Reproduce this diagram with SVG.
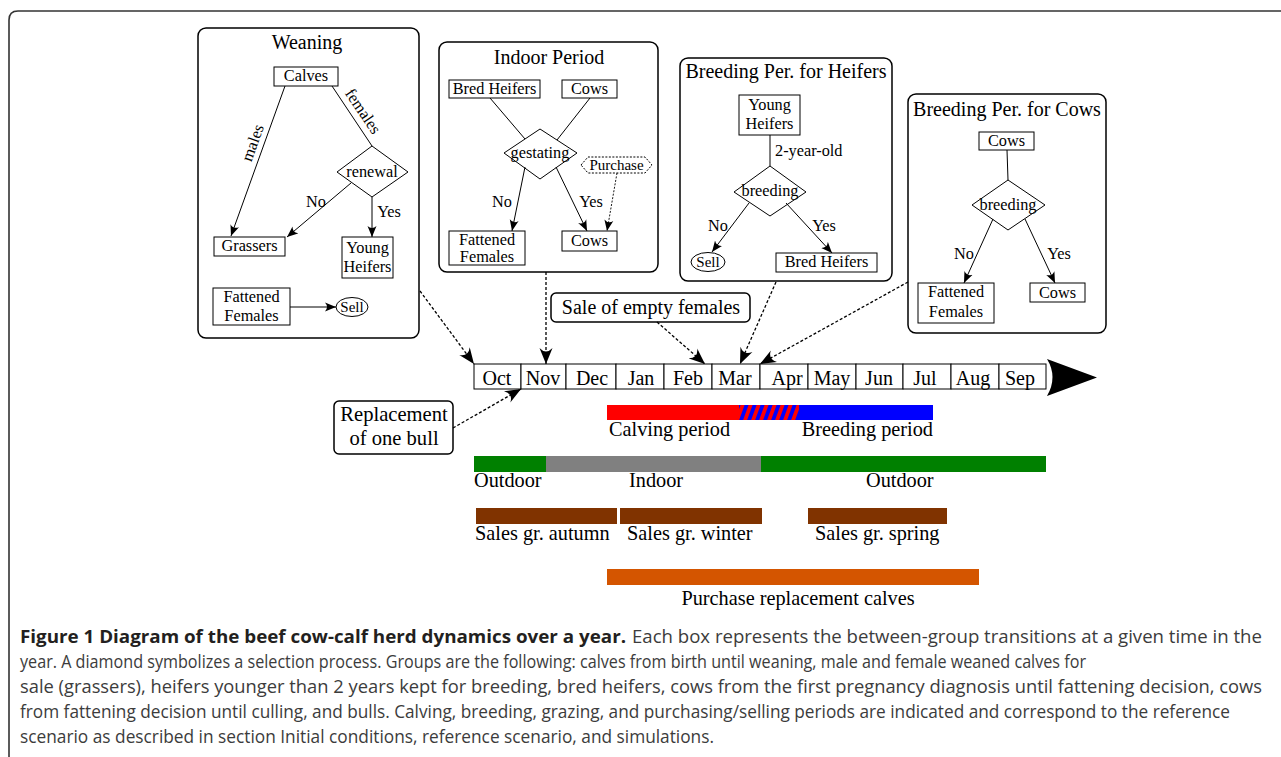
<svg xmlns="http://www.w3.org/2000/svg" width="1281" height="757" viewBox="0 0 1281 757">
<style>
.fr{fill:none;stroke:#333;stroke-width:1.6}
.panel{fill:#fff;stroke:#000;stroke-width:1.5}
.nd{fill:#fff;stroke:#000;stroke-width:1}
.ln{fill:none;stroke:#000;stroke-width:1}
.dt{fill:none;stroke:#000;stroke-width:1.3;stroke-dasharray:3 2}
.ti{font-family:"Liberation Serif",serif;font-size:20px;fill:#000;text-anchor:middle}
.t{font-family:"Liberation Serif",serif;font-size:16.3px;fill:#000;text-anchor:middle}
.tl{font-family:"Liberation Serif",serif;font-size:16.3px;fill:#000}
.mo{font-family:"Liberation Serif",serif;font-size:20px;fill:#000;text-anchor:middle}
.bl{font-family:"Liberation Serif",serif;font-size:20.3px;fill:#000}
.cb{font-family:"Open Sans",sans-serif;font-size:18px;font-weight:bold;fill:#231f20}
.cr{font-family:"Open Sans",sans-serif;font-size:18px;fill:#3c3c3c}
</style>
<defs>
<marker id="a" viewBox="-11 -5 12 10" refX="0" refY="0" markerWidth="12" markerHeight="10" markerUnits="userSpaceOnUse" orient="auto">
<path d="M0,0 L-11,-4.5 Q-7,0 -11,4.5 Z" fill="#000"/>
</marker>
<marker id="b" viewBox="-16 -7 17 14" refX="0" refY="0" markerWidth="17" markerHeight="14" markerUnits="userSpaceOnUse" orient="auto">
<path d="M0,0 L-16,-6.5 Q-9,0 -16,6.5 Z" fill="#000"/>
</marker>
<pattern id="h" patternUnits="userSpaceOnUse" width="8" height="16" patternTransform="skewX(-20)">
<rect x="0" y="0" width="4" height="16" fill="#f00"/>
<rect x="4" y="0" width="4" height="16" fill="#00f"/>
</pattern>
</defs>
<rect width="1281" height="757" fill="#fff"/>
<path class="fr" d="M9,757 L9,20 Q9,11 18,11 L1281,11"/>

<g id="weaning">
<rect class="panel" x="198" y="28" width="221" height="310" rx="8"/>
<text class="ti" x="307" y="49">Weaning</text>
<rect class="nd" x="274" y="67" width="64" height="19"/>
<text class="t" x="306" y="81">Calves</text>
<path class="nd" d="M372,146 L408,172 L372,197 L337,172 Z"/>
<text class="t" x="372" y="177">renewal</text>
<rect class="nd" x="214" y="237" width="71" height="19"/>
<text class="t" x="249.5" y="251">Grassers</text>
<rect class="nd" x="342" y="237" width="51" height="41"/>
<text class="t" x="367.5" y="253">Young</text>
<text class="t" x="367.5" y="272">Heifers</text>
<rect class="nd" x="213" y="288" width="77" height="37"/>
<text class="t" x="251.5" y="302">Fattened</text>
<text class="t" x="251.5" y="321">Females</text>
<ellipse class="nd" cx="352" cy="307" rx="16" ry="9.5"/>
<text class="t" x="352" y="312" style="font-size:15px">Sell</text>
<text class="t" transform="translate(253,143) rotate(-70)" y="5">males</text>
<text class="t" transform="translate(362,112) rotate(56)" y="4">females</text>
<text class="t" x="316" y="207">No</text>
<text class="t" x="389" y="217">Yes</text>
</g>

<g id="indoor">
<rect class="panel" x="439" y="42" width="219" height="230" rx="8"/>
<text class="ti" x="549" y="64">Indoor Period</text>
<rect class="nd" x="449" y="80" width="91" height="18"/>
<text class="t" x="494.5" y="94">Bred Heifers</text>
<rect class="nd" x="562" y="80" width="55" height="18"/>
<text class="t" x="589.5" y="94">Cows</text>
<path class="nd" d="M540,129 L577,153 L540,179 L504,153 Z"/>
<text class="t" x="540" y="158">gestating</text>
<path class="nd" d="M581,165 L588,157 L645,157 L652,165 L645,173 L588,173 Z" style="stroke-dasharray:2 1.5"/>
<text class="t" x="616.5" y="170" style="font-size:15px">Purchase</text>
<rect class="nd" x="449" y="231" width="76" height="34"/>
<text class="t" x="487" y="245">Fattened</text>
<text class="t" x="487" y="262">Females</text>
<rect class="nd" x="562" y="231" width="55" height="20"/>
<text class="t" x="589.5" y="246">Cows</text>
<text class="t" x="502" y="207">No</text>
<text class="t" x="591" y="207">Yes</text>
</g>

<g id="heifers">
<rect class="panel" x="680" y="58" width="212" height="223" rx="8"/>
<text class="ti" x="786" y="78">Breeding Per. for Heifers</text>
<rect class="nd" x="739" y="95" width="61" height="40"/>
<text class="t" x="769.5" y="110">Young</text>
<text class="t" x="769.5" y="129">Heifers</text>
<path class="nd" d="M770,166 L806,192 L770,216 L734,192 Z"/>
<text class="t" x="770" y="196">breeding</text>
<text class="tl" x="775" y="156">2-year-old</text>
<ellipse class="nd" cx="708" cy="262" rx="17" ry="9.5"/>
<text class="t" x="708" y="267" style="font-size:15px">Sell</text>
<rect class="nd" x="776" y="253" width="101" height="19"/>
<text class="t" x="826.5" y="267">Bred Heifers</text>
<text class="t" x="718" y="231">No</text>
<text class="t" x="824" y="231">Yes</text>
</g>

<g id="cows">
<rect class="panel" x="908" y="94" width="198" height="239" rx="8"/>
<text class="ti" x="1007" y="116">Breeding Per. for Cows</text>
<rect class="nd" x="979" y="132" width="55" height="18"/>
<text class="t" x="1006.5" y="146">Cows</text>
<path class="nd" d="M1008,180 L1045,205 L1008,230 L972,205 Z"/>
<text class="t" x="1008" y="210">breeding</text>
<rect class="nd" x="918" y="283" width="76" height="40"/>
<text class="t" x="956" y="297">Fattened</text>
<text class="t" x="956" y="317">Females</text>
<rect class="nd" x="1030" y="283" width="55" height="19"/>
<text class="t" x="1057.5" y="298">Cows</text>
<text class="t" x="964" y="259">No</text>
<text class="t" x="1059" y="259">Yes</text>
</g>

<g id="sale-empty">
<rect class="panel" x="551" y="293" width="199" height="29" rx="5"/>
<text class="mo" x="651" y="314">Sale of empty females</text>
</g>

<g id="replacement-bull">
<rect class="panel" x="334" y="401" width="119" height="53" rx="5"/>
<text class="mo" x="394" y="421" style="font-size:20.6px">Replacement</text>
<text class="mo" x="394" y="445" style="font-size:20.6px">of one bull</text>
</g>

<g id="timeline">
<rect class="nd" x="474" y="364" width="47" height="25"/>
<rect class="nd" x="521" y="364" width="45" height="25"/>
<rect class="nd" x="566" y="364" width="50" height="25"/>
<rect class="nd" x="616" y="364" width="48" height="25"/>
<rect class="nd" x="664" y="364" width="48" height="25"/>
<rect class="nd" x="712" y="364" width="48" height="25"/>
<rect class="nd" x="760" y="364" width="48" height="25"/>
<rect class="nd" x="808" y="364" width="48" height="25"/>
<rect class="nd" x="856" y="364" width="47" height="25"/>
<rect class="nd" x="903" y="364" width="48" height="25"/>
<rect class="nd" x="951" y="364" width="48" height="25"/>
<rect class="nd" x="999" y="364" width="47" height="25"/>
<text class="mo" x="497" y="385">Oct</text>
<text class="mo" x="543" y="385">Nov</text>
<text class="mo" x="592" y="385">Dec</text>
<text class="mo" x="641" y="385">Jan</text>
<text class="mo" x="688" y="385">Feb</text>
<text class="mo" x="735" y="385">Mar</text>
<text class="mo" x="787" y="385">Apr</text>
<text class="mo" x="832" y="385">May</text>
<text class="mo" x="879" y="385">Jun</text>
<text class="mo" x="925" y="385">Jul</text>
<text class="mo" x="973" y="385">Aug</text>
<text class="mo" x="1020" y="385">Sep</text>
<path d="M1047,359 Q1058,377 1047,396 L1097,377.5 Z" fill="#000"/>
</g>

<g id="bars">
<rect x="607" y="405" width="132" height="15" fill="#f00"/>
<rect x="739" y="405" width="60" height="15" fill="url(#h)"/>
<rect x="799" y="405" width="134" height="15" fill="#00f"/>
<text class="bl" x="609" y="436">Calving period</text>
<text class="bl" x="933" y="436" text-anchor="end">Breeding period</text>
<rect x="474" y="456" width="72" height="16" fill="#008000"/>
<rect x="546" y="456" width="215" height="16" fill="#808080"/>
<rect x="761" y="456" width="285" height="16" fill="#008000"/>
<text class="bl" x="474" y="487">Outdoor</text>
<text class="bl" x="629" y="487">Indoor</text>
<text class="bl" x="866" y="487">Outdoor</text>
<rect x="476" y="508" width="141" height="16" fill="#803300"/>
<rect x="620" y="508" width="142" height="16" fill="#803300"/>
<rect x="808" y="508" width="139" height="16" fill="#803300"/>
<text class="bl" x="475" y="540">Sales gr. autumn</text>
<text class="bl" x="627" y="540">Sales gr. winter</text>
<text class="bl" x="815" y="540">Sales gr. spring</text>
<rect x="607" y="569" width="372" height="16" fill="#d45500"/>
<text class="bl" x="798" y="605" text-anchor="middle">Purchase replacement calves</text>
</g>

<g id="connectors">
<path class="ln" d="M285,86 L231,236" marker-end="url(#a)"/>
<path class="ln" d="M332,86 L372,146"/>
<path class="ln" d="M351,183 L287,237" marker-end="url(#a)"/>
<path class="ln" d="M372,197 L372,237" marker-end="url(#a)"/>
<path class="ln" d="M290,307 L336,307" marker-end="url(#a)"/>
<path class="ln" d="M490,98 L525,139"/>
<path class="ln" d="M590,98 L557,140"/>
<path class="ln" d="M525,167 L512,231" marker-end="url(#a)"/>
<path class="ln" d="M556,167 L587,231" marker-end="url(#a)"/>
<path class="ln" d="M617,173 L607,231" marker-end="url(#a)" style="stroke-dasharray:2 1.5;stroke-width:0.9"/>
<path class="ln" d="M770,135 L770,166"/>
<path class="ln" d="M749,203 L712,252" marker-end="url(#a)"/>
<path class="ln" d="M786,203 L832,253" marker-end="url(#a)"/>
<path class="ln" d="M1007,150 L1008,180"/>
<path class="ln" d="M993,219 L964,283" marker-end="url(#a)"/>
<path class="ln" d="M1025,219 L1055,283" marker-end="url(#a)"/>
<path class="dt" d="M420,291 L474,364" marker-end="url(#b)"/>
<path class="dt" d="M546,272 L546,364" marker-end="url(#b)"/>
<path class="dt" d="M657,322 L705,364" marker-end="url(#b)"/>
<path class="dt" d="M776,282 L740,364" marker-end="url(#b)"/>
<path class="dt" d="M908,282 L760,364" marker-end="url(#b)"/>
<path class="dt" d="M453,428 L521,389" marker-end="url(#b)"/>
</g>

<g id="caption">
<text class="cb" transform="translate(20,643) scale(0.87,1)" textLength="696.6" lengthAdjust="spacingAndGlyphs">Figure 1 Diagram of the beef cow-calf herd dynamics over a year.</text>
<text class="cr" transform="translate(632,643) scale(0.87,1)" textLength="724.1" lengthAdjust="spacingAndGlyphs">Each box represents the between-group transitions at a given time in the</text>
<text class="cr" transform="translate(20,668) scale(0.87,1)" textLength="1225.3" lengthAdjust="spacingAndGlyphs">year. A diamond symbolizes a selection process. Groups are the following: calves from birth until weaning, male and female weaned calves for</text>
<text class="cr" transform="translate(20,693) scale(0.87,1)" textLength="1427.6" lengthAdjust="spacingAndGlyphs">sale (grassers), heifers younger than 2 years kept for breeding, bred heifers, cows from the first pregnancy diagnosis until fattening decision, cows</text>
<text class="cr" transform="translate(20,718) scale(0.87,1)" textLength="1390.8" lengthAdjust="spacingAndGlyphs">from fattening decision until culling, and bulls. Calving, breeding, grazing, and purchasing/selling periods are indicated and correspond to the reference</text>
<text class="cr" transform="translate(20,743) scale(0.87,1)" textLength="797.7" lengthAdjust="spacingAndGlyphs">scenario as described in section Initial conditions, reference scenario, and simulations.</text>
</g>
</svg>
